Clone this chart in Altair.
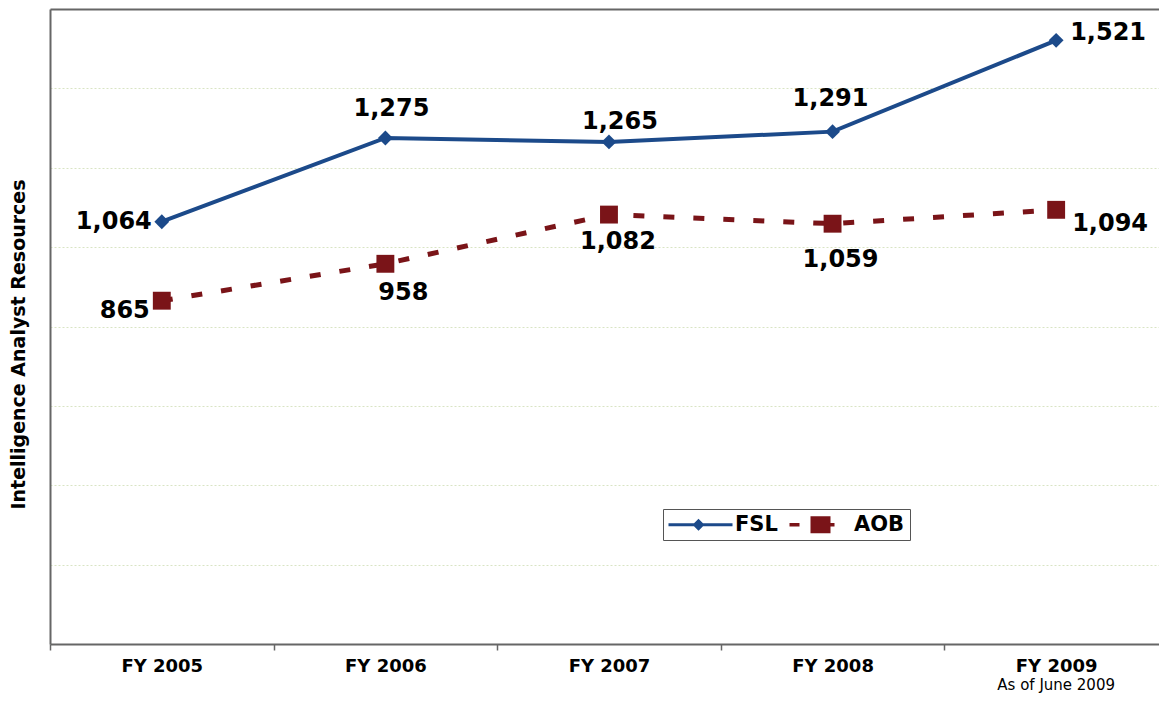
import altair as alt
import pandas as pd

categories = ["FY 2005", "FY 2006", "FY 2007", "FY 2008", "FY 2009"]
fsl = [1064, 1275, 1265, 1291, 1521]
aob = [865, 958, 1082, 1059, 1094]
series_names = ["FSL", "AOB"]
note = "As of June 2009"
y_ticks = [0, 200, 400, 600, 800, 1000, 1200, 1400, 1600]

rows = []
for i, c in enumerate(categories):
    rows.append({"idx": i, "cat": c, "series": "FSL", "value": fsl[i], "label": f"{fsl[i]:,}"})
    rows.append({"idx": i, "cat": c, "series": "AOB", "value": aob[i], "label": f"{aob[i]:,}"})
df = pd.DataFrame(rows)
note_df = pd.DataFrame({"idx": [len(categories) - 1], "txt": [note]})

W, H = 1109, 635
XMIN, XMAX = -0.5, 4.46
STEP = W / (XMAX - XMIN)
BLUE = "#1c4a8a"
RED = "#7a1418"
FONT = "DejaVu Sans"
AXIS_GRAY = "#666666"

label_expr = "[" + ",".join(f"'{c}'" for c in categories) + "][datum.value]"

x_enc = alt.X(
    "idx:Q",
    scale=alt.Scale(domain=[XMIN, XMAX], nice=False, zero=False),
    axis=alt.Axis(
        values=list(range(len(categories))),
        labelExpr=label_expr,
        tickOffset=-STEP / 2,
        labelOffset=STEP / 2,
        title=None,
        grid=False,
        domainColor=AXIS_GRAY,
        domainWidth=2,
        tickColor=AXIS_GRAY,
        tickWidth=1.5,
        tickSize=6,
        labelFont=FONT,
        labelFontWeight="bold",
        labelFontSize=18,
        labelColor="black",
        labelPadding=7,
    ),
)

y_enc = alt.Y(
    "value:Q",
    scale=alt.Scale(domain=[0, 1600], nice=False),
    axis=alt.Axis(
        values=y_ticks,
        labels=False,
        ticks=False,
        title="Intelligence Analyst Resources",
        titleFont=FONT,
        titleFontSize=19,
        titleFontWeight="bold",
        titleColor="black",
        titlePadding=22,
        titleY=335,
        domainColor=AXIS_GRAY,
        domainWidth=2,
        gridColor={"condition": {"test": "datum.value == 1600", "value": AXIS_GRAY}, "value": "#d9e4c4"},
        gridDash={"condition": {"test": "datum.value == 1600", "value": []}, "value": [2, 2]},
        gridWidth={"condition": {"test": "datum.value == 1600", "value": 2}, "value": 1},
    ),
)

base = alt.Chart(df)

line_fsl = base.transform_filter("datum.series == 'FSL'").mark_line(
    color=BLUE, strokeWidth=4
).encode(x=x_enc, y=y_enc)
pts_fsl = base.transform_filter("datum.series == 'FSL'").mark_point(
    shape="diamond", filled=True, size=220, color=BLUE, opacity=1
).encode(x=x_enc, y=y_enc)
line_aob = base.transform_filter("datum.series == 'AOB'").mark_line(
    color=RED, strokeWidth=5, strokeDash=[11, 19]
).encode(x=x_enc, y=y_enc)
pts_aob = base.transform_filter("datum.series == 'AOB'").mark_point(
    shape="square", filled=True, size=320, color=RED, opacity=1
).encode(x=x_enc, y=y_enc)

path_fsl = "M-1,-0.15H5.4V0.15H-1Z M2,-0.6L2.6,0L2,0.6L1.4,0Z"
path_aob = "M-0.8,-0.17H0.2V0.17H-0.8Z M1.3,-0.85H3.3V0.85H1.3Z M3.3,-0.17H3.7V0.17H3.3Z"

leg = alt.Legend(
    orient="none",
    legendX=613,
    legendY=500,
    direction="horizontal",
    title=None,
    symbolSize=400,
    symbolOpacity=1,
    symbolStrokeWidth=0,
    labelFont=FONT,
    labelFontSize=21,
    labelFontWeight="bold",
    labelColor="black",
    labelOffset=46,
    labelBaseline="middle",
    columnPadding=9,
    padding=5,
    strokeColor="#555555",
    fillColor="white",
)

legend_layer = base.mark_point(filled=True, opacity=0, size=400).encode(
    x=x_enc,
    y=y_enc,
    color=alt.Color("series:N", scale=alt.Scale(domain=series_names, range=[BLUE, RED]), legend=leg),
    shape=alt.Shape("series:N", scale=alt.Scale(domain=series_names, range=[path_fsl, path_aob]), legend=leg),
)

# label placement style per point: (align, dx, dy)
fsl_style = [("right", -10, 0), ("center", 6, -29), ("center", 11, -20), ("center", -2, -33), ("left", 14, -7)]
aob_style = [("right", -12, 10), ("center", 18, 29), ("center", 9, 27), ("center", 8, 36), ("left", 16, 14)]

label_layers = []
for sname, styles in (("FSL", fsl_style), ("AOB", aob_style)):
    for i, (al, dx, dy) in enumerate(styles):
        label_layers.append(
            base.transform_filter(f"datum.series == '{sname}' && datum.idx == {i}")
            .mark_text(align=al, baseline="middle", dx=dx, dy=dy, font=FONT, fontSize=24,
                       fontWeight="bold", color="black")
            .encode(x=x_enc, y=y_enc, text="label:N")
        )

note_layer = alt.Chart(note_df).mark_text(
    align="center", baseline="alphabetic", font=FONT, fontSize=15, color="black"
).encode(x=x_enc, y=alt.value(681), text="txt:N")

chart = alt.layer(
    legend_layer, line_aob, line_fsl, pts_aob, pts_fsl, *label_layers, note_layer
).properties(
    width=W,
    height=H,
    padding={"left": 42, "top": 1, "right": 0, "bottom": 50},
    autosize="none",
    background="white",
).configure_view(stroke=None)

chart.save("out.html", embed_options={"renderer": "svg", "actions": False})
